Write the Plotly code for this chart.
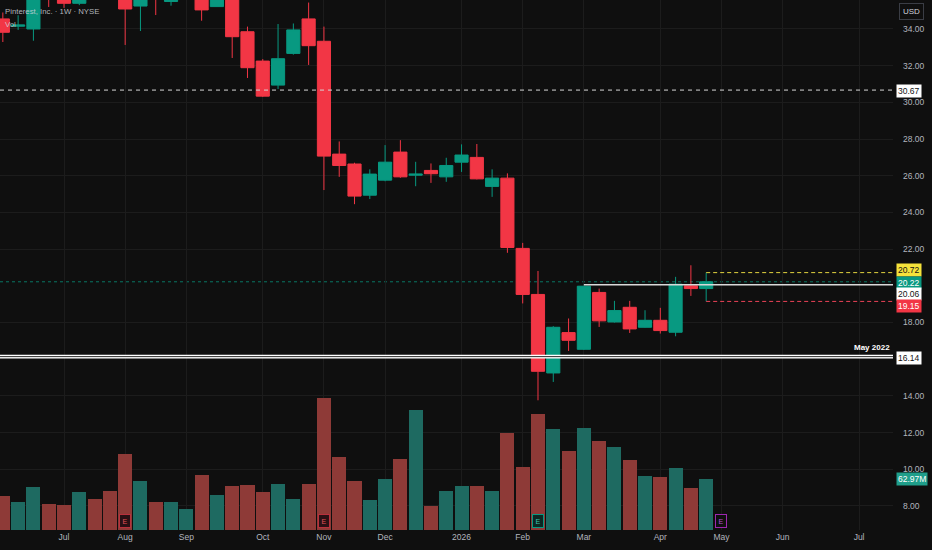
import plotly.graph_objects as go
import pandas as pd

# ---------------- data ----------------
dates = ["2025-06-09","2025-06-16","2025-06-23","2025-06-30","2025-07-07","2025-07-14","2025-07-21","2025-07-28",
         "2025-08-04","2025-08-11","2025-08-18","2025-08-25","2025-09-01","2025-09-08","2025-09-15","2025-09-22",
         "2025-09-29","2025-10-06","2025-10-13","2025-10-20","2025-10-27","2025-11-03","2025-11-10","2025-11-17",
         "2025-11-24","2025-12-01","2025-12-08","2025-12-15","2025-12-22","2025-12-29","2026-01-05","2026-01-12",
         "2026-01-19","2026-01-26","2026-02-02","2026-02-09","2026-02-16","2026-02-23","2026-03-02","2026-03-09",
         "2026-03-16","2026-03-23","2026-03-30","2026-04-06","2026-04-13","2026-04-20","2026-04-27"]

opens = [34.55, 34.15, 34.00, 36.60, 36.10, 35.40, 36.80, 37.00, 36.50, 35.25, 36.60, 35.50, 36.20, 36.30, 35.22, 36.20,
         33.85, 32.25, 30.94, 32.67, 34.55, 33.33, 27.18, 26.64, 24.94, 25.76, 27.29, 26.03, 26.29, 25.94, 26.74, 27.00,
         25.42, 25.87, 22.04, 19.53, 15.25, 17.45, 16.54, 19.64, 18.03, 18.83, 17.74, 18.12, 17.47, 20.00, 19.85]
highs = [34.90, 34.75, 36.30, 36.90, 36.40, 36.60, 37.20, 37.40, 36.80, 36.50, 36.90, 36.40, 37.30, 36.60, 36.30, 36.50,
         34.13, 32.36, 34.27, 34.30, 35.44, 34.13, 27.87, 26.71, 26.35, 27.67, 27.94, 26.76, 26.67, 26.98, 27.71, 27.73,
         26.35, 26.13, 22.34, 20.81, 17.80, 18.22, 20.00, 19.85, 19.18, 19.18, 18.67, 18.80, 20.49, 21.12, 20.72]
lows = [33.29, 33.95, 33.36, 35.20, 35.15, 35.30, 35.90, 35.90, 33.13, 33.89, 34.76, 35.27, 35.80, 34.45, 35.20, 32.42,
        31.33, 30.30, 30.73, 32.60, 32.04, 25.22, 25.94, 24.45, 24.73, 25.70, 25.89, 25.43, 25.61, 25.67, 26.21, 25.80,
        24.85, 21.80, 19.04, 13.76, 14.76, 16.45, 16.50, 17.76, 18.00, 17.43, 17.72, 17.40, 17.25, 19.45, 19.15]
closes = [33.82, 34.22, 35.95, 36.00, 35.40, 36.20, 36.30, 36.30, 35.09, 36.20, 36.00, 36.10, 36.90, 35.04, 36.00, 33.58,
          31.89, 30.34, 32.38, 33.95, 33.09, 27.07, 26.56, 24.89, 26.09, 26.74, 25.94, 26.09, 26.11, 26.56, 27.13, 25.83,
          25.87, 22.09, 19.53, 15.34, 17.74, 17.03, 19.98, 18.09, 18.65, 17.65, 18.12, 17.56, 20.09, 19.85, 20.22]
volumes_m = [42.6, 34.4, 53.8, 32.7, 31.0, 47.2, 38.9, 48.1, 94.4, 60.9, 35.2, 34.4, 26.1, 67.9, 43.5, 55.0,
             55.9, 47.2, 56.8, 38.1, 57.5, 163.9, 91.0, 61.2, 37.3, 63.3, 88.2, 149.0, 29.8, 48.4, 54.6, 54.6,
             48.8, 120.8, 77.9, 143.7, 125.8, 98.5, 126.7, 110.5, 102.7, 86.9, 67.1, 66.2, 77.0, 52.5, 62.97]

month_tick_dates = ["2025-07-07","2025-08-04","2025-09-01","2025-10-06","2025-11-03","2025-12-01","2026-01-05",
                    "2026-02-02","2026-03-02","2026-04-06","2026-05-04","2026-06-01","2026-07-06"]
month_tick_labels = ["Jul","Aug","Sep","Oct","Nov","Dec","2026","Feb","Mar","Apr","May","Jun","Jul"]
price_ticks = [8, 10, 12, 14, 18, 22, 24, 26, 28, 30, 32, 34]

earnings_dates = ["2025-08-04","2025-11-03","2026-02-09","2026-05-04"]
earnings_kind = ["down","down","up","future"]

level_dashed = 30.67
level_may2022 = 16.14
level_resist = 20.06
resist_start = "2026-03-02"
bar_high = highs[-1]
bar_low = lows[-1]
last_close = closes[-1]
last_volume = volumes_m[-1]

# ---------------- style ----------------
BG = "#0f0f0f"
GRID = "#1c1c1c"
UP = "#089981"
DOWN = "#f23645"
VOL_UP = "#1e6a61"
VOL_DOWN = "#8e3a37"
TXT = "#b2b5be"
FONT = "Liberation Sans"

# axis ranges (layout)
base = pd.Timestamp("2025-07-07")
px_per_week = 15.29
x_left = base + pd.Timedelta(days=7 * (-64 / px_per_week))
x_right = base + pd.Timedelta(days=7 * ((893 - 64) / px_per_week))

fig = go.Figure()

vol_colors = [VOL_UP if c >= o else VOL_DOWN for o, c in zip(opens, closes)]
fig.add_trace(go.Bar(
    x=dates, y=volumes_m, yaxis="y2",
    marker=dict(color=vol_colors, line=dict(width=0)),
    width=7 * 24 * 3600 * 1000 * 0.92, hoverinfo="skip", showlegend=False))

fig.add_trace(go.Candlestick(
    x=dates, open=opens, high=highs, low=lows, close=closes,
    increasing=dict(line=dict(color=UP, width=1), fillcolor=UP),
    decreasing=dict(line=dict(color=DOWN, width=1), fillcolor=DOWN),
    whiskerwidth=0, showlegend=False, hoverinfo="skip"))

shapes = []
shapes.append(dict(type="line", xref="paper", x0=0, x1=1, yref="y", y0=last_close, y1=last_close,
                   line=dict(color="rgba(8,153,129,0.75)", width=1, dash="dot"), layer="below"))
shapes.append(dict(type="line", xref="paper", x0=0, x1=1, yref="y", y0=level_dashed, y1=level_dashed,
                   line=dict(color="#d6d6d6", width=1, dash="4px,4px")))
shapes.append(dict(type="line", xref="x", x0=resist_start, x1=x_right, yref="y", y0=level_resist, y1=level_resist,
                   line=dict(color="#d9d9d9", width=1.5)))
shapes.append(dict(type="line", xref="paper", x0=0, x1=1, yref="y", y0=level_may2022, y1=level_may2022,
                   line=dict(color="#ffffff", width=3.6)))
shapes.append(dict(type="line", xref="paper", x0=0, x1=1, yref="y", y0=level_may2022, y1=level_may2022,
                   line=dict(color=BG, width=0.9)))
shapes.append(dict(type="line", xref="x", x0=dates[-1], x1=x_right, yref="y", y0=bar_high, y1=bar_high,
                   line=dict(color="#e3d43f", width=1, dash="4px,3px")))
shapes.append(dict(type="line", xref="x", x0=dates[-1], x1=x_right, yref="y", y0=bar_low, y1=bar_low,
                   line=dict(color="#ec4257", width=1, dash="4px,3px")))

annotations = []
annotations.append(dict(xref="paper", yref="paper", x=0, y=1, xanchor="left", yanchor="top", xshift=3, yshift=-5,
                        text="Pinterest, Inc. · 1W · NYSE", showarrow=False,
                        font=dict(family=FONT, size=7.8, color="rgba(209,212,220,0.85)")))
annotations.append(dict(xref="paper", yref="paper", x=0, y=1, xanchor="left", yanchor="top", xshift=3, yshift=-18,
                        text="Vol", showarrow=False,
                        font=dict(family=FONT, size=7.8, color="rgba(209,212,220,0.85)")))
annotations.append(dict(xref="paper", yref="paper", x=1, y=1, xanchor="left", yanchor="top", xshift=6, yshift=-3,
                        text="USD", showarrow=False, bgcolor=BG, bordercolor="#3a3d45", borderwidth=1, borderpad=3,
                        font=dict(family=FONT, size=8, color="#d1d4dc")))


def price_label(yval, text, bg, fg, yshift=0, yref="y"):
    return dict(xref="paper", x=1, xanchor="left", xshift=3, yref=yref, y=yval, yanchor="middle", yshift=yshift,
                text=text, showarrow=False, bgcolor=bg, borderpad=1,
                font=dict(family=FONT, size=8.5, color=fg))


annotations.append(price_label(level_dashed, "%.2f" % level_dashed, "#ffffff", "#131313", -1))
annotations.append(price_label(bar_high, "%.2f" % bar_high, "#f5e23b", "#131313", 2.4))
annotations.append(price_label(last_close, "%.2f" % last_close, UP, "#ffffff", -1))
annotations.append(price_label(level_resist, "%.2f" % level_resist, "#ffffff", "#131313", -9.4))
annotations.append(price_label(bar_low, "%.2f" % bar_low, DOWN, "#ffffff", -4.7))
annotations.append(price_label(level_may2022, "%.2f" % level_may2022, "#ffffff", "#131313", -1.5))
annotations.append(price_label(last_volume, "%.2fM" % last_volume, "#1f9e8a", "#ffffff", 0, "y2"))
annotations.append(dict(xref="paper", x=1, xanchor="right", xshift=-1, yref="y", y=level_may2022, yanchor="bottom",
                        yshift=3, text="<b>May 2022</b>", showarrow=False,
                        font=dict(family=FONT, size=8, color="#ffffff")))
emk = {"down": ("#2a1014", "#b8303c", "#e2505b"),
       "up": ("#0b2823", "#089981", "#3fc5ad"),
       "future": ("#0f0f0f", "#9c27b0", "#b54fd6")}
for d, k in zip(earnings_dates, earnings_kind):
    bgc, bc, fc = emk[k]
    annotations.append(dict(xref="x", x=d, yref="paper", y=0, yanchor="bottom", yshift=2, text="E",
                            showarrow=False, bgcolor=bgc, bordercolor=bc, borderwidth=1, borderpad=1,
                            width=8, height=10, font=dict(family=FONT, size=7, color=fc)))

fig.update_layout(
    width=932, height=550,
    paper_bgcolor=BG, plot_bgcolor=BG,
    margin=dict(l=0, r=39, t=0, b=20),
    showlegend=False,
    boxgap=0.14, boxgroupgap=0.0,
    bargap=0,
    shapes=shapes,
    annotations=annotations,
    xaxis=dict(type="date", range=[x_left, x_right], tickvals=month_tick_dates, ticktext=month_tick_labels,
               showgrid=True, gridcolor=GRID, gridwidth=1, zeroline=False, showline=False, ticks="",
               tickfont=dict(family=FONT, size=8.5, color=TXT), rangeslider=dict(visible=False),
               fixedrange=True),
    yaxis=dict(side="right", range=[6.69, 35.58], tickvals=price_ticks, tickformat=".2f", showgrid=True,
               gridcolor=GRID, gridwidth=1, zeroline=False, showline=False, ticks="",
               ticklabelstandoff=9, tickfont=dict(family=FONT, size=8.5, color=TXT)),
    yaxis2=dict(overlaying="y", range=[0, 658], visible=False, showgrid=False),
    font=dict(family=FONT),
)

fig.write_html("out.html", config={"displayModeBar": False},
               post_script="document.body.style.margin='0';document.body.style.padding='0';"
                           "document.body.style.overflow='hidden';document.body.style.background='#0f0f0f';")
